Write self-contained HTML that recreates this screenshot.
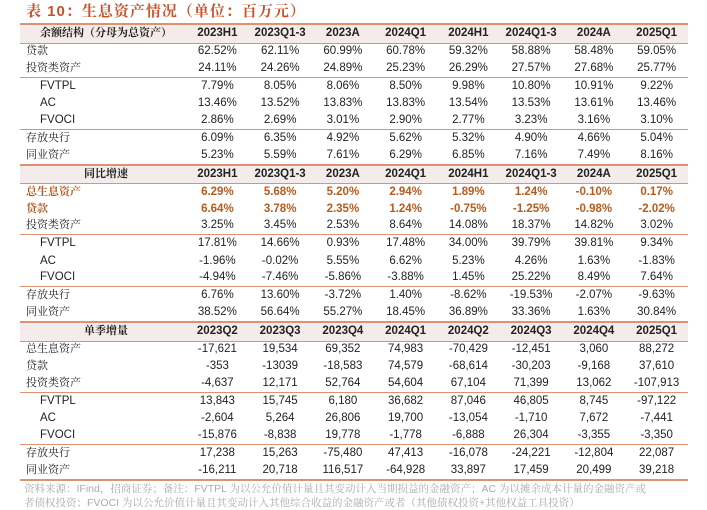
<!DOCTYPE html>
<html><head><meta charset="utf-8"><style>
body{margin:0;width:707px;height:500px;background:#fff;overflow:hidden;font-family:"Liberation Sans","Noto Sans CJK SC",sans-serif;}
.t{position:absolute;left:26px;top:2px;font-size:15px;line-height:20px;color:#c8502a;font-weight:bold;letter-spacing:1px;font-family:"Liberation Sans","Noto Serif CJK SC",serif;}
table{position:absolute;left:20px;top:23px;width:668px;border-collapse:collapse;table-layout:fixed;font-size:11.5px;color:#222;}
tr{height:17px;}
td{height:16.5px;line-height:15px;padding:0;text-align:center;white-space:nowrap;overflow:hidden;}
tr.h td, tr.s td{height:17.5px;}
td:first-child{text-align:left;padding-left:6px;font-family:"Liberation Serif","Noto Serif CJK SC",serif;font-size:11px;}
tr.h td{background:#f4ecea;font-weight:bold;border-top:2px solid #e0916f;border-bottom:1px solid #e0916f;}
tr.h td:first-child{text-align:center;font-size:11px;}
tr.s td{border-top:1px solid #e0916f;}
tr.i td:first-child{padding-left:20px;font-family:"Liberation Sans",sans-serif;font-size:11.5px;}
tr.o td{color:#b85a1c;font-weight:bold;}
tr.last td{border-bottom:2px solid #e0916f;}
.src{position:absolute;left:24px;top:482px;font-size:10.5px;line-height:14px;color:#aaa;white-space:nowrap;font-family:"Liberation Sans","Noto Serif CJK SC",serif;}
</style></head><body>
<div class="t">表 10：生息资产情况（单位：百万元）</div>
<table>
<col style="width:166px"><col><col><col><col><col><col><col><col>
<tr class="h"><td>余额结构（分母为总资产）</td><td>2023H1</td><td>2023Q1-3</td><td>2023A</td><td>2024Q1</td><td>2024H1</td><td>2024Q1-3</td><td>2024A</td><td>2025Q1</td></tr>
<tr><td>贷款</td><td>62.52%</td><td>62.11%</td><td>60.99%</td><td>60.78%</td><td>59.32%</td><td>58.88%</td><td>58.48%</td><td>59.05%</td></tr>
<tr><td>投资类资产</td><td>24.11%</td><td>24.26%</td><td>24.89%</td><td>25.23%</td><td>26.29%</td><td>27.57%</td><td>27.68%</td><td>25.77%</td></tr>
<tr class="s i"><td>FVTPL</td><td>7.79%</td><td>8.05%</td><td>8.06%</td><td>8.50%</td><td>9.98%</td><td>10.80%</td><td>10.91%</td><td>9.22%</td></tr>
<tr class="i"><td>AC</td><td>13.46%</td><td>13.52%</td><td>13.83%</td><td>13.83%</td><td>13.54%</td><td>13.53%</td><td>13.61%</td><td>13.46%</td></tr>
<tr class="i"><td>FVOCI</td><td>2.86%</td><td>2.69%</td><td>3.01%</td><td>2.90%</td><td>2.77%</td><td>3.23%</td><td>3.16%</td><td>3.10%</td></tr>
<tr class="s"><td>存放央行</td><td>6.09%</td><td>6.35%</td><td>4.92%</td><td>5.62%</td><td>5.32%</td><td>4.90%</td><td>4.66%</td><td>5.04%</td></tr>
<tr><td>同业资产</td><td>5.23%</td><td>5.59%</td><td>7.61%</td><td>6.29%</td><td>6.85%</td><td>7.16%</td><td>7.49%</td><td>8.16%</td></tr>
<tr class="h"><td>同比增速</td><td>2023H1</td><td>2023Q1-3</td><td>2023A</td><td>2024Q1</td><td>2024H1</td><td>2024Q1-3</td><td>2024A</td><td>2025Q1</td></tr>
<tr class="o"><td>总生息资产</td><td>6.29%</td><td>5.68%</td><td>5.20%</td><td>2.94%</td><td>1.89%</td><td>1.24%</td><td>-0.10%</td><td>0.17%</td></tr>
<tr class="o"><td>贷款</td><td>6.64%</td><td>3.78%</td><td>2.35%</td><td>1.24%</td><td>-0.75%</td><td>-1.25%</td><td>-0.98%</td><td>-2.02%</td></tr>
<tr><td>投资类资产</td><td>3.25%</td><td>3.45%</td><td>2.53%</td><td>8.64%</td><td>14.08%</td><td>18.37%</td><td>14.82%</td><td>3.02%</td></tr>
<tr class="s i"><td>FVTPL</td><td>17.81%</td><td>14.66%</td><td>0.93%</td><td>17.48%</td><td>34.00%</td><td>39.79%</td><td>39.81%</td><td>9.34%</td></tr>
<tr class="i"><td>AC</td><td>-1.96%</td><td>-0.02%</td><td>5.55%</td><td>6.62%</td><td>5.23%</td><td>4.26%</td><td>1.63%</td><td>-1.83%</td></tr>
<tr class="i"><td>FVOCI</td><td>-4.94%</td><td>-7.46%</td><td>-5.86%</td><td>-3.88%</td><td>1.45%</td><td>25.22%</td><td>8.49%</td><td>7.64%</td></tr>
<tr class="s"><td>存放央行</td><td>6.76%</td><td>13.60%</td><td>-3.72%</td><td>1.40%</td><td>-8.62%</td><td>-19.53%</td><td>-2.07%</td><td>-9.63%</td></tr>
<tr><td>同业资产</td><td>38.52%</td><td>56.64%</td><td>55.27%</td><td>18.45%</td><td>36.89%</td><td>33.36%</td><td>1.63%</td><td>30.84%</td></tr>
<tr class="h"><td>单季增量</td><td>2023Q2</td><td>2023Q3</td><td>2023Q4</td><td>2024Q1</td><td>2024Q2</td><td>2024Q3</td><td>2024Q4</td><td>2025Q1</td></tr>
<tr><td>总生息资产</td><td>-17,621</td><td>19,534</td><td>69,352</td><td>74,983</td><td>-70,429</td><td>-12,451</td><td>3,060</td><td>88,272</td></tr>
<tr><td>贷款</td><td>-353</td><td>-13039</td><td>-18,583</td><td>74,579</td><td>-68,614</td><td>-30,203</td><td>-9,168</td><td>37,610</td></tr>
<tr><td>投资类资产</td><td>-4,637</td><td>12,171</td><td>52,764</td><td>54,604</td><td>67,104</td><td>71,399</td><td>13,062</td><td>-107,913</td></tr>
<tr class="s i"><td>FVTPL</td><td>13,843</td><td>15,745</td><td>6,180</td><td>36,682</td><td>87,046</td><td>46,805</td><td>8,745</td><td>-97,122</td></tr>
<tr class="i"><td>AC</td><td>-2,604</td><td>5,264</td><td>26,806</td><td>19,700</td><td>-13,054</td><td>-1,710</td><td>7,672</td><td>-7,441</td></tr>
<tr class="i"><td>FVOCI</td><td>-15,876</td><td>-8,838</td><td>19,778</td><td>-1,778</td><td>-6,888</td><td>26,304</td><td>-3,355</td><td>-3,350</td></tr>
<tr class="s"><td>存放央行</td><td>17,238</td><td>15,263</td><td>-75,480</td><td>47,413</td><td>-16,078</td><td>-24,221</td><td>-12,804</td><td>22,087</td></tr>
<tr class="last"><td>同业资产</td><td>-16,211</td><td>20,718</td><td>116,517</td><td>-64,928</td><td>33,897</td><td>17,459</td><td>20,499</td><td>39,218</td></tr>
</table>
<div class="src">资料来源：IFind，招商证券；备注：FVTPL 为以公允价值计量且其变动计入当期损益的金融资产；AC 为以摊余成本计量的金融资产或<br>者债权投资；FVOCI 为以公允价值计量且其变动计入其他综合收益的金融资产或者（其他债权投资+其他权益工具投资）</div>
</body></html>
